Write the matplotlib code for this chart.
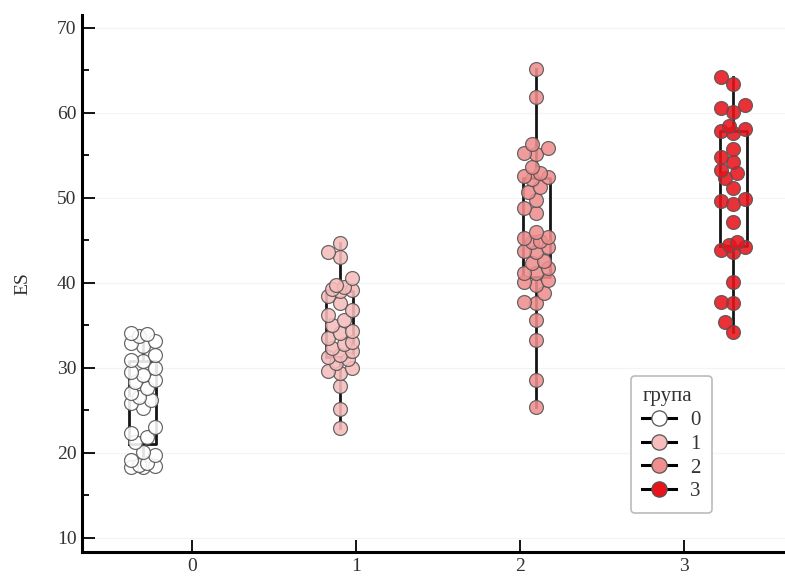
import numpy as np
import matplotlib
matplotlib.use("Agg")
import matplotlib.pyplot as plt
from matplotlib.lines import Line2D

# -------------------------
# DATA
# -------------------------

GROUPS = [0, 1, 2, 3]
COLORS = ["#ffffff", "#f7bcbc", "#f08e8e", "#e8141c"]

es_0 = [18.3, 18.4, 18.5, 18.6, 18.8, 19.2, 19.8, 20.1, 21.3, 21.9, 22.3, 23.1,
        25.3, 25.9, 26.2, 26.6, 27.0, 27.6, 28.3, 28.6, 29.2, 29.5, 30.0, 30.8,
        30.9, 31.5, 32.6, 32.9, 33.2, 33.8, 34.0, 34.1]
es_1 = [22.9, 25.2, 27.9, 29.4, 29.6, 30.0, 30.6, 31.0, 31.3, 31.5, 32.0, 32.3,
        32.8, 33.0, 33.5, 34.1, 34.3, 35.0, 35.6, 36.2, 36.8, 37.6, 38.4, 39.0,
        39.2, 39.3, 39.5, 39.8, 40.6, 43.0, 43.6, 44.7]
es_2 = [25.4, 28.6, 33.3, 35.6, 37.6, 37.8, 38.8, 39.7, 40.1, 40.3, 41.1, 41.2,
        41.7, 42.3, 42.6, 43.6, 43.7, 44.2, 44.8, 44.9, 45.3, 45.4, 46.0, 48.2,
        48.8, 49.7, 50.7, 51.3, 52.2, 52.4, 52.6, 52.9, 53.6, 55.2, 55.3, 55.8,
        56.3, 61.8, 65.1]
es_3 = [34.2, 35.4, 37.6, 37.8, 40.1, 43.6, 43.9, 44.2, 44.5, 44.8, 47.1, 49.3,
        49.6, 49.9, 51.1, 52.3, 52.9, 53.3, 54.2, 54.8, 55.7, 57.6, 57.9, 58.1,
        58.4, 60.1, 60.5, 60.9, 63.4, 64.2]

DATA = [es_0, es_1, es_2, es_3]

# -------------------------
# LAYOUT HELPERS
# -------------------------

XPX = 164.0    # pixels per x unit
YPX = 8.507    # pixels per y unit
RADIUS = 6.5   # marker radius in px


def spread(values, max_px=12.0):
    # greedy placement: put each point as close to center as it can go
    placed = []
    step = 4.0
    cands = [0.0]
    k = 1
    while k * step <= max_px:
        cands += [-k * step, k * step]
        k += 1
    offs = []
    for v in values:
        y = v * YPX
        best, best_d = 0.0, -1
        for c in cands:
            d = min([np.hypot(c - px, y - py) for px, py in placed] or [99])
            if d >= 2 * RADIUS * 0.85:
                best = c
                break
            if d > best_d:
                best, best_d = c, d
        placed.append((best, y))
        offs.append(best / XPX)
    return offs


# -------------------------
# PLOT
# -------------------------

plt.rcParams["font.family"] = ["Liberation Serif", "DejaVu Serif"]

fig = plt.figure(figsize=(7.85, 5.78), dpi=100)
ax = fig.add_axes([0.1045, 0.045, 0.907, 0.929])

dodge = [-0.3, -0.1, 0.1, 0.3]
positions = [g + d for g, d in zip(GROUPS, dodge)]

ax.boxplot(DATA, positions=positions, widths=0.165, showcaps=False,
           showfliers=False, manage_ticks=False,
           boxprops=dict(color="#151515", linewidth=2.0),
           whiskerprops=dict(color="#151515", linewidth=2.0),
           medianprops=dict(linewidth=0), zorder=2)

for pos, vals, col in zip(positions, DATA, COLORS):
    offs = spread(vals)
    ax.scatter([pos + o for o in offs], vals, s=100, facecolor=col,
               edgecolor="#555555", linewidth=0.9, alpha=0.88, zorder=3)

ax.set_xlim(-0.67, 3.67)
ax.set_ylim(8.354, 71.48)
ax.set_xticks(GROUPS)
ax.set_yticks([10, 20, 30, 40, 50, 60, 70])
ax.set_yticks([15, 25, 35, 45, 55, 65], minor=True)
ax.yaxis.grid(True, color="#f3f5f3", linewidth=1.0)
ax.set_axisbelow(True)

ax.spines["top"].set_visible(False)
ax.spines["right"].set_visible(False)
ax.spines["left"].set_linewidth(2.2)
ax.spines["bottom"].set_linewidth(2.2)
ax.tick_params(axis="both", which="major", direction="in", length=9,
               width=1.3, labelsize=14, labelcolor="#333333", pad=4)
ax.tick_params(axis="y", which="minor", direction="in", length=5, width=1.3)
ax.set_ylabel("ES", fontsize=14, color="#333333", labelpad=18)

handles = [Line2D([0], [0], color="black", lw=2.2, marker="o", markersize=11,
                  markerfacecolor=c, markeredgecolor="#555555",
                  markeredgewidth=0.9)
           for c in COLORS]
leg = ax.legend(handles, [str(g) for g in GROUPS], title="група",
                loc="upper left", bbox_to_anchor=(0.771, 0.328),
                fontsize=15, title_fontsize=15, frameon=True,
                handlelength=1.6, labelspacing=0.2, borderpad=0.55,
                handletextpad=0.7, borderaxespad=0, fancybox=True,
                framealpha=1)
leg._legend_box.align = "left"
leg.get_frame().set_edgecolor("#bbbbbb")
leg.get_frame().set_linewidth(1.2)
for t in leg.get_texts():
    t.set_color("#333333")
leg.get_title().set_color("#333333")

# reference frame is wider than its contents
fig.canvas.draw()
bb = leg.get_frame().get_bbox()
leg.get_frame().set_width(bb.width + 18)

fig.savefig("out.png", dpi=100)
